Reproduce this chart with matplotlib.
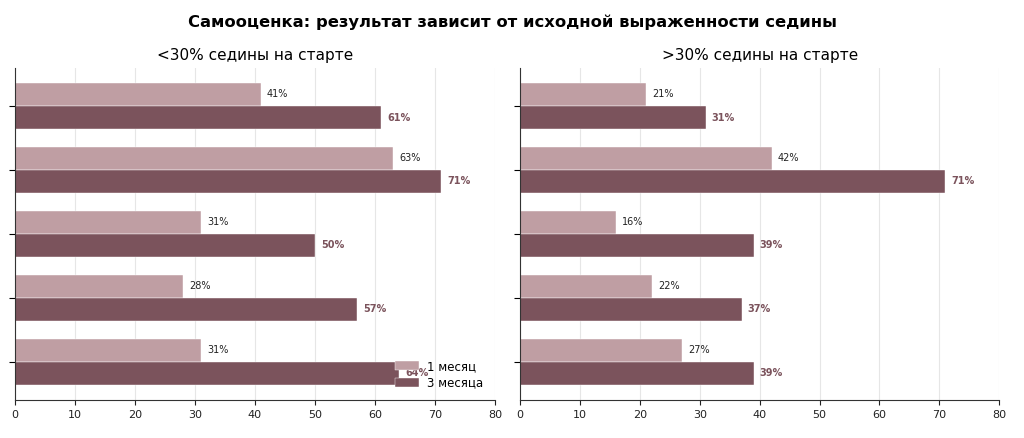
import matplotlib
matplotlib.use("Agg")
import matplotlib.pyplot as plt
import numpy as np

plt.rcParams['font.family'] = ['DejaVu Sans']

categories = ["A", "B", "C", "D", "E"]
left_1m = [41, 63, 31, 28, 31]
left_3m = [61, 71, 50, 57, 64]
right_1m = [21, 42, 16, 22, 27]
right_3m = [31, 71, 39, 37, 39]
xticks = [0, 10, 20, 30, 40, 50, 60, 70, 80]

c_light = "#bf9ea3"
c_dark = "#7b535c"

fig = plt.figure(figsize=(10.24, 4.38), dpi=100)
ax1 = fig.add_axes([0.0146, 0.087, 0.4688, 0.758])
ax2 = fig.add_axes([0.508, 0.087, 0.4678, 0.758])

h = 0.36
y = np.arange(len(categories))

def draw(ax, v1, v3, title, legend=False):
    ax.barh(y - h/2, v1, height=h, color=c_light, edgecolor="white", linewidth=0.3, label="1 месяц", zorder=2)
    ax.barh(y + h/2, v3, height=h, color=c_dark, edgecolor="white", linewidth=0.3, label="3 месяца", zorder=2)
    for yi, v in zip(y, v1):
        ax.text(v + 1, yi - h/2, f"{v}%", va="center", ha="left", fontsize=7, color="#222222", zorder=3)
    for yi, v in zip(y, v3):
        ax.text(v + 1, yi + h/2, f"{v}%", va="center", ha="left", fontsize=7, color=c_dark, fontweight="bold", zorder=3)
    ax.set_yticks(y)
    ax.set_yticklabels([])
    ax.invert_yaxis()
    ax.set_xlim(0, 80)
    ax.set_xticks(xticks)
    ax.tick_params(axis='x', labelsize=8, colors="#222222")
    ax.tick_params(axis='y', length=4)
    ax.grid(axis='x', color="#e6e6e6", linewidth=0.8, zorder=0)
    ax.set_axisbelow(True)
    for s in ["top", "right"]:
        ax.spines[s].set_visible(False)
    ax.spines["left"].set_color("#333333")
    ax.spines["bottom"].set_color("#333333")
    ax.set_title(title, fontsize=11, pad=6)
    if legend:
        ax.legend(loc="lower right", frameon=False, fontsize=8.5, handlelength=2.0,
                  handleheight=0.8, borderaxespad=0.2, labelspacing=0.3,
                  handletextpad=0.7, bbox_to_anchor=(0.99, 0.01))

draw(ax1, left_1m, left_3m, "<30% седины на старте", legend=True)
draw(ax2, right_1m, right_3m, ">30% седины на старте")

fig.suptitle("Самооценка: результат зависит от исходной выраженности седины",
             fontsize=11.8, fontweight="bold", y=0.95, va="center")

fig.savefig("out.png", dpi=100)
